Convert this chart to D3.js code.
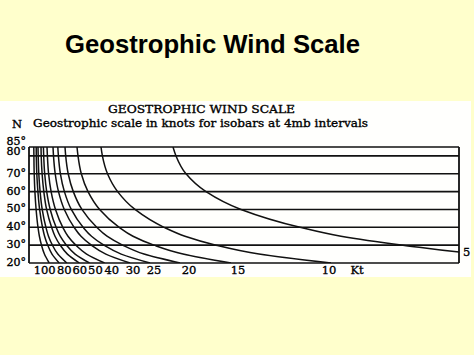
<!DOCTYPE html>
<html>
<head>
<meta charset="utf-8">
<script src="https://cdn.jsdelivr.net/npm/d3@7"></script>
<style>
  html, body { margin: 0; padding: 0; background: #ffffcc; overflow: hidden; }
  svg { display: block; }
  .ink { fill: #000; stroke: #000; stroke-width: 0.35px; }
</style>
</head>
<body>
<svg id="chart"></svg>
<script>
// latitude lines of the scale (deg N)
var latLines = [85, 80, 70, 60, 50, 40, 30, 20]
var latLabels = ["85°", "80°", "70°", "60°", "50°", "40°", "30°", "20°"]

var sampleLats = [85, 80, 70, 60, 50, 40, 35, 30, 25, 20]

// wind speed of each curve (kt)
var speeds = [150, 100, 80, 60, 50, 40, 30, 25, 20, 15, 10, 5]

// distance of each curve from the left edge, per sample latitude (scale units)
var spacing = [
  [4.8, 4.9, 5.2, 5.9, 7.1, 9.0, 10.4, 12.5, 15.4, 20.2],
  [7.2, 7.3, 7.8, 8.9, 10.6, 13.5, 15.6, 18.7, 23.0, 30.2],
  [9.0, 9.2, 9.8, 11.1, 13.2, 16.9, 19.5, 23.4, 28.8, 37.8],
  [12.0, 12.2, 13.1, 14.8, 17.6, 22.6, 26.0, 31.2, 38.4, 50.4],
  [14.4, 14.7, 15.7, 17.7, 21.2, 27.1, 31.2, 37.4, 46.1, 60.5],
  [18.0, 18.4, 19.6, 22.1, 26.5, 33.8, 39.0, 46.8, 57.6, 75.6],
  [24.0, 24.5, 26.2, 29.5, 35.3, 45.1, 52.0, 62.4, 76.8, 101],
  [28.8, 29.4, 31.4, 35.4, 42.3, 54.1, 62.5, 74.9, 92.2, 121],
  [36.0, 36.7, 39.2, 44.3, 52.9, 67.7, 78.0, 93.6, 115, 151],
  [48.0, 49.0, 52.3, 59.0, 70.6, 90.2, 104, 125, 154, 202],
  [72.0, 73.4, 78.5, 88.6, 106, 135, 156, 187, 230, 302],
  [144, 147, 157, 177, 212, 271, 312, 374, 452, 605]
]

// speed labels under the scale
var tickValues = [15.7, 35.2, 50.8, 66.4, 82.7, 104, 125, 160, 209, 300, 328]
var tickLabels = ["100", "80", "60", "50", "40", "30", "25", "20", "15", "10", "Kt"]

var width = 474,
  height = 355,
  box = { left: 29, right: 459, top: 147, bottom: 263 }

var svg = d3.select("#chart")
  .attr("width", width)
  .attr("height", height)

svg.append("rect")
  .attr("width", width)
  .attr("height", height)
  .attr("fill", "#ffffcc")

// scanned panel
svg.append("rect")
  .attr("x", 0)
  .attr("y", 101)
  .attr("width", 471)
  .attr("height", 176)
  .attr("fill", "#fffffd")

svg.append("text")
  .attr("x", 65)
  .attr("y", 53)
  .attr("textLength", 295)
  .attr("lengthAdjust", "spacingAndGlyphs")
  .style("font-family", "'Liberation Sans', Arial, sans-serif")
  .style("font-weight", "bold")
  .style("font-size", "25.5px")
  .text("Geostrophic Wind Scale")

var serif = "'DejaVu Serif', serif"

svg.append("text")
  .attr("class", "ink")
  .attr("x", 108)
  .attr("y", 113)
  .attr("textLength", 187)
  .attr("lengthAdjust", "spacingAndGlyphs")
  .style("font-family", serif)
  .style("font-size", "11.5px")
  .text("GEOSTROPHIC WIND SCALE")

svg.append("text")
  .attr("class", "ink")
  .attr("x", 33)
  .attr("y", 127)
  .attr("textLength", 335)
  .attr("lengthAdjust", "spacingAndGlyphs")
  .style("font-family", serif)
  .style("font-size", "11.5px")
  .text("Geostrophic scale in knots for isobars at 4mb intervals")

svg.append("text")
  .attr("class", "ink")
  .attr("x", 12)
  .attr("y", 128)
  .style("font-family", serif)
  .style("font-size", "11.5px")
  .text("N")

var x = d3.scaleLinear()
  .domain([0, 430])
  .range([box.left, box.right])

var y = d3.scaleLinear()
  .domain([20, 85])
  .range([box.bottom, box.top])

svg.append("clipPath")
  .attr("id", "plot-clip")
  .append("rect")
  .attr("x", box.left)
  .attr("y", box.top)
  .attr("width", box.right - box.left)
  .attr("height", box.bottom - box.top)

// latitude lines
svg.selectAll("line.lat")
  .data(latLines)
  .enter()
  .append("line")
  .attr("class", "lat")
  .attr("x1", x(0))
  .attr("x2", x(430))
  .attr("y1", function (d) { return y(d) })
  .attr("y2", function (d) { return y(d) })
  .attr("stroke", "#111")
  .attr("stroke-width", 1.6)

svg.selectAll("text.lat")
  .data(latLines)
  .enter()
  .append("text")
  .attr("class", "lat ink")
  .attr("x", 26)
  .attr("y", function (d, i) {
    if (d == 85) return y(d) - 2
    if (d == 80) return y(d) - 1
    return y(d) + 3
  })
  .attr("text-anchor", "end")
  .style("font-family", serif)
  .style("font-size", "11px")
  .text(function (d, i) { return latLabels[i] })

// side edges
svg.selectAll("line.edge")
  .data([0, 430])
  .enter()
  .append("line")
  .attr("class", "edge")
  .attr("x1", function (d) { return x(d) })
  .attr("x2", function (d) { return x(d) })
  .attr("y1", y(85))
  .attr("y2", y(20))
  .attr("stroke", "#111")
  .attr("stroke-width", 1.8)

// speed curves
var line = d3.line()
  .x(function (d) { return x(d[1]) })
  .y(function (d) { return y(d[0]) })
  .curve(d3.curveMonotoneY)

svg.append("g")
  .attr("clip-path", "url(#plot-clip)")
  .selectAll("path.speed")
  .data(spacing)
  .enter()
  .append("path")
  .attr("class", "speed")
  .attr("d", function (row) {
    return line(row.map(function (v, j) { return [sampleLats[j], v] }))
  })
  .attr("fill", "none")
  .attr("stroke", "#111")
  .attr("stroke-width", 1.5)

// speed labels along the bottom
svg.selectAll("text.speed")
  .data(tickValues)
  .enter()
  .append("text")
  .attr("class", "speed ink")
  .attr("x", function (d) { return x(d) })
  .attr("y", 274)
  .attr("text-anchor", "middle")
  .style("font-family", serif)
  .style("font-size", "11.5px")
  .text(function (d, i) { return tickLabels[i] })

// label of the curve that leaves through the right edge
var last = spacing[spacing.length - 1]
for (let j = 1; j < last.length; j++) {
  if (last[j] >= 430) {
    let t = (430 - last[j - 1]) / (last[j] - last[j - 1])
    let lat = sampleLats[j - 1] + t * (sampleLats[j] - sampleLats[j - 1])
    svg.append("text")
      .attr("class", "ink")
      .attr("x", x(430) + 4)
      .attr("y", y(lat) + 4)
      .style("font-family", serif)
      .style("font-size", "11.5px")
      .text(speeds[speeds.length - 1])
    break
  }
}
</script>
</body>
</html>
